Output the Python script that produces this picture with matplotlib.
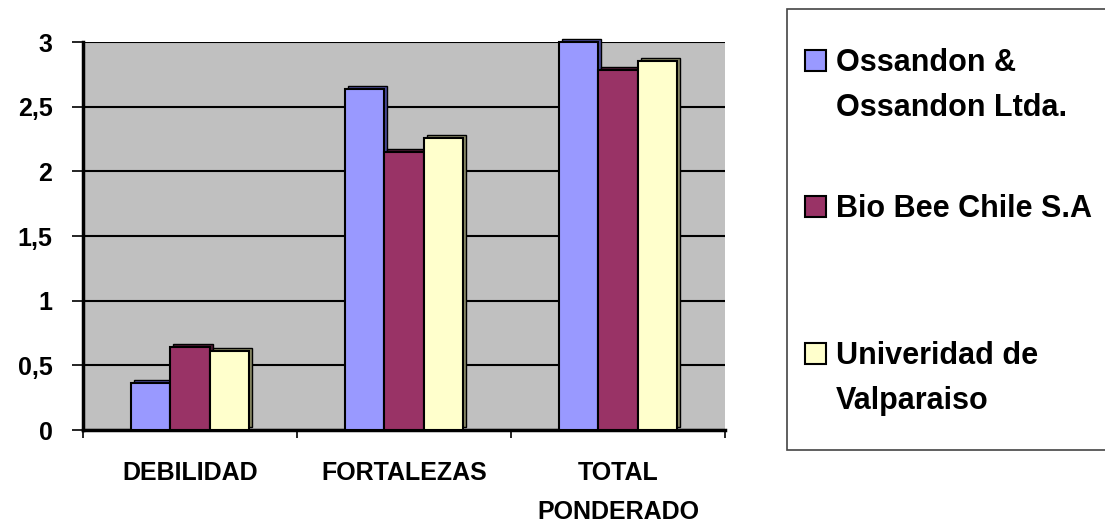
import matplotlib.pyplot as plt
import matplotlib.transforms as mtransforms
from matplotlib.patches import Rectangle
import numpy as np

plt.rcParams["font.family"] = ["Liberation Sans", "DejaVu Sans"]
plt.rcParams["font.weight"] = "bold"

categories = ["DEBILIDAD", "FORTALEZAS", "TOTAL\nPONDERADO"]
series_names = ["Ossandon &\nOssandon Ltda.", "Bio Bee Chile S.A", "Univeridad de\nValparaiso"]
ossandon = [0.36, 2.64, 3.0]
biobee = [0.64, 2.15, 2.78]
valparaiso = [0.61, 2.26, 2.85]
series_values = [ossandon, biobee, valparaiso]
y_ticks = [0, 0.5, 1, 1.5, 2, 2.5, 3]
y_tick_labels = ["0", "0,5", "1", "1,5", "2", "2,5", "3"]

colors = ["#9999FF", "#993366", "#FFFFCC"]
shades = ["#4a4a99", "#4d1a33", "#8a8a66"]

W, H = 1105, 522
fig = plt.figure(figsize=(W / 100, H / 100), dpi=100)
ax = fig.add_axes([83 / W, 1 - 430 / H, 642 / W, 388 / H])
ax.set_facecolor("#C0C0C0")

x = np.arange(len(categories))
width = 0.184

# fake 3D depth: darker copy shifted up-right behind each bar
depth = mtransforms.offset_copy(ax.transData, fig=fig, x=3, y=3, units="dots")
for i, (vals, c, s) in enumerate(zip(series_values, colors, shades)):
    pos = x + (i - 1) * width
    back = ax.bar(pos, vals, width, color=s, edgecolor="black", linewidth=1.0,
                  transform=depth, zorder=3)
    for b in back:
        b.set_clip_on(False)
    front = ax.bar(pos, vals, width, color=c, edgecolor="black", linewidth=1.5, zorder=4)
    for b in front:
        b.set_clip_on(False)

ax.set_xlim(-0.5, 2.5)
ax.set_ylim(0, 3)
ax.set_yticks(y_ticks)
ax.set_yticklabels(y_tick_labels, fontsize=18, fontweight="bold")
ax.yaxis.grid(True, color="black", linewidth=1.5)
ax.set_axisbelow(True)

ax.set_xticks(x)
ax.set_xticklabels(categories, fontsize=18, fontweight="bold", linespacing=1.8)
ax.tick_params(axis="x", length=0, pad=22)
ax.set_xticks([-0.5, 0.5, 1.5, 2.5], minor=True)
ax.tick_params(axis="x", which="minor", length=6, width=1.2, direction="out")
ax.tick_params(axis="y", length=8, width=1.2, direction="out", pad=14)

for side in ["top", "right"]:
    ax.spines[side].set_visible(False)
ax.spines["left"].set_linewidth(2.5)
ax.spines["bottom"].set_linewidth(2.5)

# legend drawn by hand to keep the uneven spacing of the original
fig.patches.append(Rectangle((787 / W, 1 - 450 / H), 320 / W, 441 / H,
                             transform=fig.transFigure, facecolor="white",
                             edgecolor="#444444", linewidth=1.2))
legend_baselines = [71, 217, 364]
for name, c, base in zip(series_names, colors, legend_baselines):
    fig.patches.append(Rectangle((805 / W, 1 - base / H), 21 / W, 21 / H,
                                 transform=fig.transFigure, facecolor=c,
                                 edgecolor="black", linewidth=1.5))
    for k, line in enumerate(name.split("\n")):
        fig.text(836 / W, 1 - (base + 45 * k) / H, line, fontsize=22,
                 fontweight="bold", va="baseline", ha="left")

fig.savefig("out.png", dpi=100)
